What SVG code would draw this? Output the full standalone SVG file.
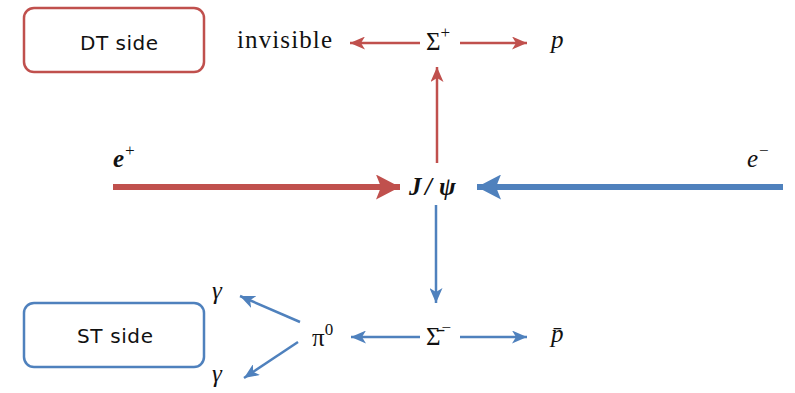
<svg xmlns="http://www.w3.org/2000/svg" width="795" height="393" viewBox="0 0 795 393">
<style>
.red{stroke:#c0504d;fill:none}
.blue{stroke:#4f81bd;fill:none}
.thin{stroke-width:2.5}
.thick{stroke-width:6}
.box{stroke-width:2.5;fill:#fff}
.lbl{font-family:"DejaVu Sans",sans-serif;font-size:20px;fill:#111}
.m{font-family:"Liberation Serif","DejaVu Serif",serif;font-size:25px;fill:#111}
.i{font-style:italic}
.sup{font-size:17px}
</style>
<defs>
<marker id="ar" markerUnits="userSpaceOnUse" markerWidth="16" markerHeight="13" refX="15" refY="6.5" orient="auto"><path d="M0,0 L15,6.5 L0,13 L4,6.5 z" fill="#c0504d"/></marker>
<marker id="ab" markerUnits="userSpaceOnUse" markerWidth="16" markerHeight="13" refX="15" refY="6.5" orient="auto"><path d="M0,0 L15,6.5 L0,13 L4,6.5 z" fill="#4f81bd"/></marker>
<marker id="arT" markerUnits="userSpaceOnUse" markerWidth="25" markerHeight="25" refX="24" refY="12.5" orient="auto"><path d="M0,0 L24,12.5 L0,25 L5,12.5 z" fill="#c0504d"/></marker>
<marker id="abT" markerUnits="userSpaceOnUse" markerWidth="25" markerHeight="25" refX="24" refY="12.5" orient="auto"><path d="M0,0 L24,12.5 L0,25 L5,12.5 z" fill="#4f81bd"/></marker>
</defs>
<rect width="795" height="393" fill="#fff"/>
<g id="connectors">
<line class="red thin" x1="420" y1="43" x2="350" y2="43" marker-end="url(#ar)"/>
<line class="red thin" x1="460" y1="43" x2="527" y2="43" marker-end="url(#ar)"/>
<line class="red thin" x1="437" y1="163" x2="437" y2="67" marker-end="url(#ar)"/>
<line class="red thick" x1="113" y1="187" x2="400" y2="187" marker-end="url(#arT)"/>
<line class="blue thick" x1="783" y1="187" x2="477" y2="187" marker-end="url(#abT)"/>
<line class="blue thin" x1="436" y1="205" x2="436" y2="303" marker-end="url(#ab)"/>
<line class="blue thin" x1="420" y1="337" x2="351" y2="337" marker-end="url(#ab)"/>
<line class="blue thin" x1="460" y1="337" x2="527" y2="337" marker-end="url(#ab)"/>
<line class="blue thin" x1="300" y1="322" x2="240" y2="296" marker-end="url(#ab)"/>
<line class="blue thin" x1="298" y1="342" x2="244" y2="378" marker-end="url(#ab)"/>
</g>
<g id="dt-side">
<rect class="red box" x="24" y="8" width="180" height="64" rx="10"/>
<text class="lbl" x="80" y="50" textLength="78">DT side</text>
</g>
<g id="st-side">
<rect class="blue box" x="24" y="303" width="180" height="64" rx="10"/>
<text class="lbl" x="77" y="343" textLength="76">ST side</text>
</g>
<g id="invisible"><text class="m" x="237" y="48" font-size="24" textLength="95">invisible</text></g>
<g id="sigma-plus"><text class="m" x="426" y="50" font-size="27">Σ<tspan class="sup" dy="-12">+</tspan></text></g>
<g id="p"><text class="m i" x="551" y="48">p</text></g>
<g id="e-plus"><text class="m i" x="113" y="167" font-weight="bold">e<tspan class="sup" font-weight="normal" dy="-11">+</tspan></text></g>
<g id="jpsi"><text class="m i" y="195" font-size="27" font-weight="bold"><tspan x="409">J</tspan><tspan x="425">/</tspan><tspan x="439">ψ</tspan></text></g>
<g id="e-minus"><text class="m i" x="747" y="167">e<tspan class="sup" dy="-11">−</tspan></text></g>
<g id="sigma-bar-minus"><text class="m" x="426" y="345" font-size="27">Σ̄<tspan class="sup" dx="1" dy="-12">−</tspan></text></g>
<g id="p-bar"><text class="m i" x="551" y="342">p̄</text></g>
<g id="pi0"><text class="m" x="312" y="346">π<tspan class="sup" dy="-11">0</tspan></text></g>
<g id="gamma1"><text class="m i" x="212" y="299">γ</text></g>
<g id="gamma2"><text class="m i" x="212" y="382">γ</text></g>
</svg>
